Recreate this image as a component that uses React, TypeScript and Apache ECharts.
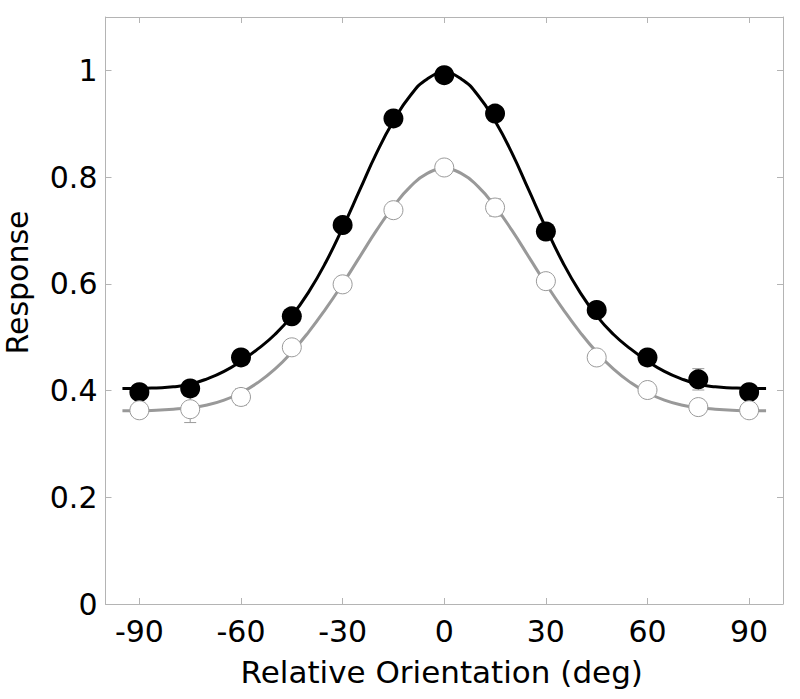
import React, { useEffect, useRef } from "react";
import * as echarts from "echarts";

const orientations = [-90, -75, -60, -45, -30, -15, 0, 15, 30, 45, 60, 75, 90];
const filledValues = [0.397, 0.404, 0.462, 0.539, 0.71, 0.91, 0.991, 0.919, 0.698, 0.551, 0.462, 0.421, 0.397];
const filledErrors = [0.008, 0.008, 0.01, 0.012, 0.01, 0.01, 0.008, 0.01, 0.01, 0.012, 0.01, 0.02, 0.01];
const openValues = [0.363, 0.365, 0.388, 0.481, 0.599, 0.738, 0.818, 0.743, 0.605, 0.462, 0.401, 0.369, 0.363];
const openErrors = [0.006, 0.025, 0.015, 0.008, 0.008, 0.008, 0.006, 0.016, 0.008, 0.012, 0.008, 0.012, 0.008];

const curveX = [-95, -90, -85, -80, -75, -70, -65, -60, -55, -50, -45, -40, -35, -30, -25, -20, -15, -10, -5, 0, 5, 10, 15, 20, 25, 30, 35, 40, 45, 50, 55, 60, 65, 70, 75, 80, 85, 90, 95];
const filledCurve = [0.404, 0.404, 0.405, 0.407, 0.412, 0.422, 0.436, 0.455, 0.478, 0.505, 0.54, 0.585, 0.64, 0.705, 0.775, 0.845, 0.905, 0.953, 0.984, 0.995, 0.984, 0.953, 0.905, 0.845, 0.775, 0.705, 0.64, 0.585, 0.54, 0.505, 0.478, 0.455, 0.436, 0.422, 0.412, 0.407, 0.405, 0.404, 0.404];
const openCurve = [0.362, 0.362, 0.363, 0.365, 0.368, 0.373, 0.382, 0.396, 0.415, 0.44, 0.472, 0.51, 0.553, 0.6, 0.65, 0.7, 0.745, 0.782, 0.807, 0.815, 0.807, 0.782, 0.745, 0.7, 0.65, 0.6, 0.553, 0.51, 0.472, 0.44, 0.415, 0.396, 0.382, 0.373, 0.368, 0.365, 0.363, 0.362, 0.362];

const xTicks = [-90, -60, -30, 0, 30, 60, 90];
const yTicks = [0, 0.2, 0.4, 0.6, 0.8, 1];

const FONT = "DejaVu Sans";
const FRAME = "#b4b4b4";

function errorSeries(values: number[], errors: number[], z: number) {
  return {
    type: "custom",
    z,
    silent: true,
    data: orientations.map((x, i) => [x, values[i] - errors[i], values[i] + errors[i]]),
    renderItem: (params: any, api: any) => {
      const x = api.value(0);
      const lo = api.coord([x, api.value(1)]);
      const hi = api.coord([x, api.value(2)]);
      const w = 6;
      const style = { stroke: "#9a9a9a", lineWidth: 1 };
      return {
        type: "group",
        children: [
          { type: "line", shape: { x1: lo[0], y1: lo[1], x2: hi[0], y2: hi[1] }, style },
          { type: "line", shape: { x1: lo[0] - w, y1: lo[1], x2: lo[0] + w, y2: lo[1] }, style },
          { type: "line", shape: { x1: hi[0] - w, y1: hi[1], x2: hi[0] + w, y2: hi[1] }, style },
        ],
      };
    },
  };
}

export default function App() {
  const ref = useRef<HTMLDivElement>(null);
  useEffect(() => {
    if (!ref.current) return;
    const chart = echarts.init(ref.current, null, { renderer: "svg" });
    const baseAxisLine = { show: true, lineStyle: { color: FRAME, width: 1 } };
    const tick = (vals: number[]) => ({ show: true, inside: true, length: 6, lineStyle: { color: FRAME }, customValues: vals });
    chart.setOption({
      animation: false,
      backgroundColor: "#ffffff",
      grid: { left: 105.5, right: 17, top: 17, bottom: 95, containLabel: false, outerBoundsMode: "none" },
      xAxis: [
        {
          type: "value",
          min: -100,
          max: 100,
          position: "bottom",
          axisLine: { ...baseAxisLine, onZero: false },
          axisTick: tick(xTicks),
          axisLabel: { customValues: xTicks, color: "#000", fontFamily: FONT, fontSize: 30, margin: 12 },
          splitLine: { show: false },
          name: "Relative Orientation (deg)",
          nameLocation: "middle",
          nameGap: 52,
          nameTextStyle: { color: "#000", fontFamily: FONT, fontSize: 31, padding: [0, 5, 0, 0] },
        },
        {
          type: "value",
          min: -100,
          max: 100,
          position: "top",
          axisLine: { ...baseAxisLine, onZero: false },
          axisTick: tick(xTicks),
          axisLabel: { show: false },
          splitLine: { show: false },
        },
      ],
      yAxis: [
        {
          type: "value",
          min: 0,
          max: 1.1,
          position: "left",
          axisLine: { ...baseAxisLine, onZero: false },
          axisTick: tick(yTicks),
          axisLabel: { customValues: yTicks, color: "#000", fontFamily: FONT, fontSize: 30, margin: 8 },
          splitLine: { show: false },
          name: "Response",
          nameLocation: "middle",
          nameGap: 73,
          nameTextStyle: { color: "#000", fontFamily: FONT, fontSize: 30, padding: [0, 0, 0, 56] },
        },
        {
          type: "value",
          min: 0,
          max: 1.1,
          position: "right",
          axisLine: { ...baseAxisLine, onZero: false },
          axisTick: tick(yTicks),
          axisLabel: { show: false },
          splitLine: { show: false },
        },
      ],
      series: [
        {
          type: "line",
          name: "open fit",
          data: curveX.map((x, i) => [x, openCurve[i]]),
          smooth: true,
          showSymbol: false,
          lineStyle: { color: "#999999", width: 3 },
          z: 2,
        },
        {
          type: "line",
          name: "filled fit",
          data: curveX.map((x, i) => [x, filledCurve[i]]),
          smooth: true,
          showSymbol: false,
          lineStyle: { color: "#000000", width: 3 },
          z: 3,
        },
        errorSeries(filledValues, filledErrors, 4),
        errorSeries(openValues, openErrors, 4),
        {
          type: "scatter",
          name: "filled",
          data: orientations.map((x, i) => [x, filledValues[i]]),
          symbol: "circle",
          symbolSize: 20,
          itemStyle: { color: "#000000", opacity: 1 },
          z: 5,
        },
        {
          type: "scatter",
          name: "open",
          data: orientations.map((x, i) => [x, openValues[i]]),
          symbol: "circle",
          symbolSize: 19,
          itemStyle: { color: "#ffffff", borderColor: "#9a9a9a", borderWidth: 1, opacity: 1 },
          z: 6,
        },
      ],
    });
    return () => chart.dispose();
  }, []);
  return (
    <div
      ref={ref}
      style={{ position: "fixed", left: 0, top: 0, width: 800, height: 699, background: "#fff" }}
    />
  );
}
